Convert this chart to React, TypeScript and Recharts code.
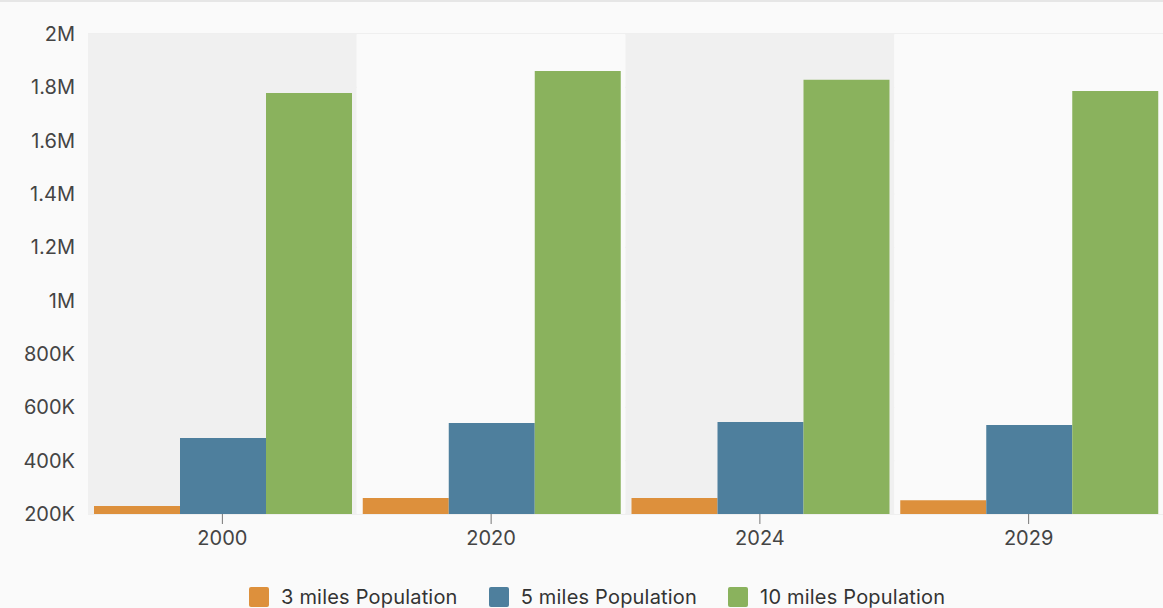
import * as React from 'react';
import { BarChart, Bar, XAxis, YAxis, CartesianGrid, Legend, ReferenceArea } from 'recharts';

const years = ['2000', '2020', '2024', '2029'];
const pop3 = [230000, 260000, 260000, 252000];
const pop5 = [485000, 541000, 545000, 534000];
const pop10 = [1779000, 1861000, 1828000, 1786000];
const yTicks = [200000, 400000, 600000, 800000, 1000000, 1200000, 1400000, 1600000, 1800000, 2000000];

const series = [
  { key: 'p3', name: '3 miles Population', color: '#dd903c' },
  { key: 'p5', name: '5 miles Population', color: '#4e7f9d' },
  { key: 'p10', name: '10 miles Population', color: '#8ab25d' },
];

const data = years.map((year, i) => ({ year, p3: pop3[i], p5: pop5[i], p10: pop10[i] }));

const fmt = (v: number) => (v >= 1000000 ? v / 1000000 + 'M' : v / 1000 + 'K');

// legend drawn from the series list so the order stays as in the picture
const LegendContent = () => (
  <div style={{ height: 54, display: 'flex', alignItems: 'flex-end', paddingLeft: 249 }}>
    {series.map((s) => (
      <div key={s.key} style={{ display: 'flex', alignItems: 'center', marginRight: 31 }}>
        <span style={{ width: 20, height: 20, background: s.color, borderRadius: 2, display: 'inline-block', marginRight: 12 }} />
        <span style={{ fontSize: 20, color: '#333', lineHeight: '22px', letterSpacing: 0.2 }}>{s.name}</span>
      </div>
    ))}
  </div>
);

export default function App() {
  return (
    <div style={{ position: 'absolute', left: 0, top: 0, width: 1163, height: 608, background: '#fafafa', borderTop: '2px solid #e6e6e6', boxSizing: 'border-box', fontFamily: 'Inter, sans-serif' }}>
      <BarChart
        width={1163}
        height={606}
        data={data}
        margin={{ top: 32, right: 0, bottom: 0, left: 0 }}
        barCategoryGap={6}
        barGap={0}
      >
        {years.map((y, i) => (
          <ReferenceArea key={y} x1={y} x2={y} fill={i % 2 === 0 ? '#f0f0f0' : '#fafafa'} fillOpacity={1} stroke="none" />
        ))}
        <CartesianGrid vertical={false} stroke="#e4e4e4" />
        <XAxis
          dataKey="year"
          axisLine={false}
          tickSize={10}
          tickMargin={7}
          height={40}
          tickLine={{ stroke: '#777' }}
          tick={{ fill: '#444', fontSize: 20 }}
        />
        <YAxis
          width={88}
          domain={[200000, 2000000]}
          ticks={yTicks}
          tickFormatter={fmt}
          axisLine={false}
          tickLine={false}
          tickMargin={7}
          tick={{ fill: '#444', fontSize: 20 }}
        />
        <Legend verticalAlign="bottom" content={<LegendContent />} wrapperStyle={{ left: 0, width: 1163 }} />
        {series.map((s) => (
          <Bar key={s.key} dataKey={s.key} name={s.name} fill={s.color} isAnimationActive={false} />
        ))}
      </BarChart>
    </div>
  );
}
